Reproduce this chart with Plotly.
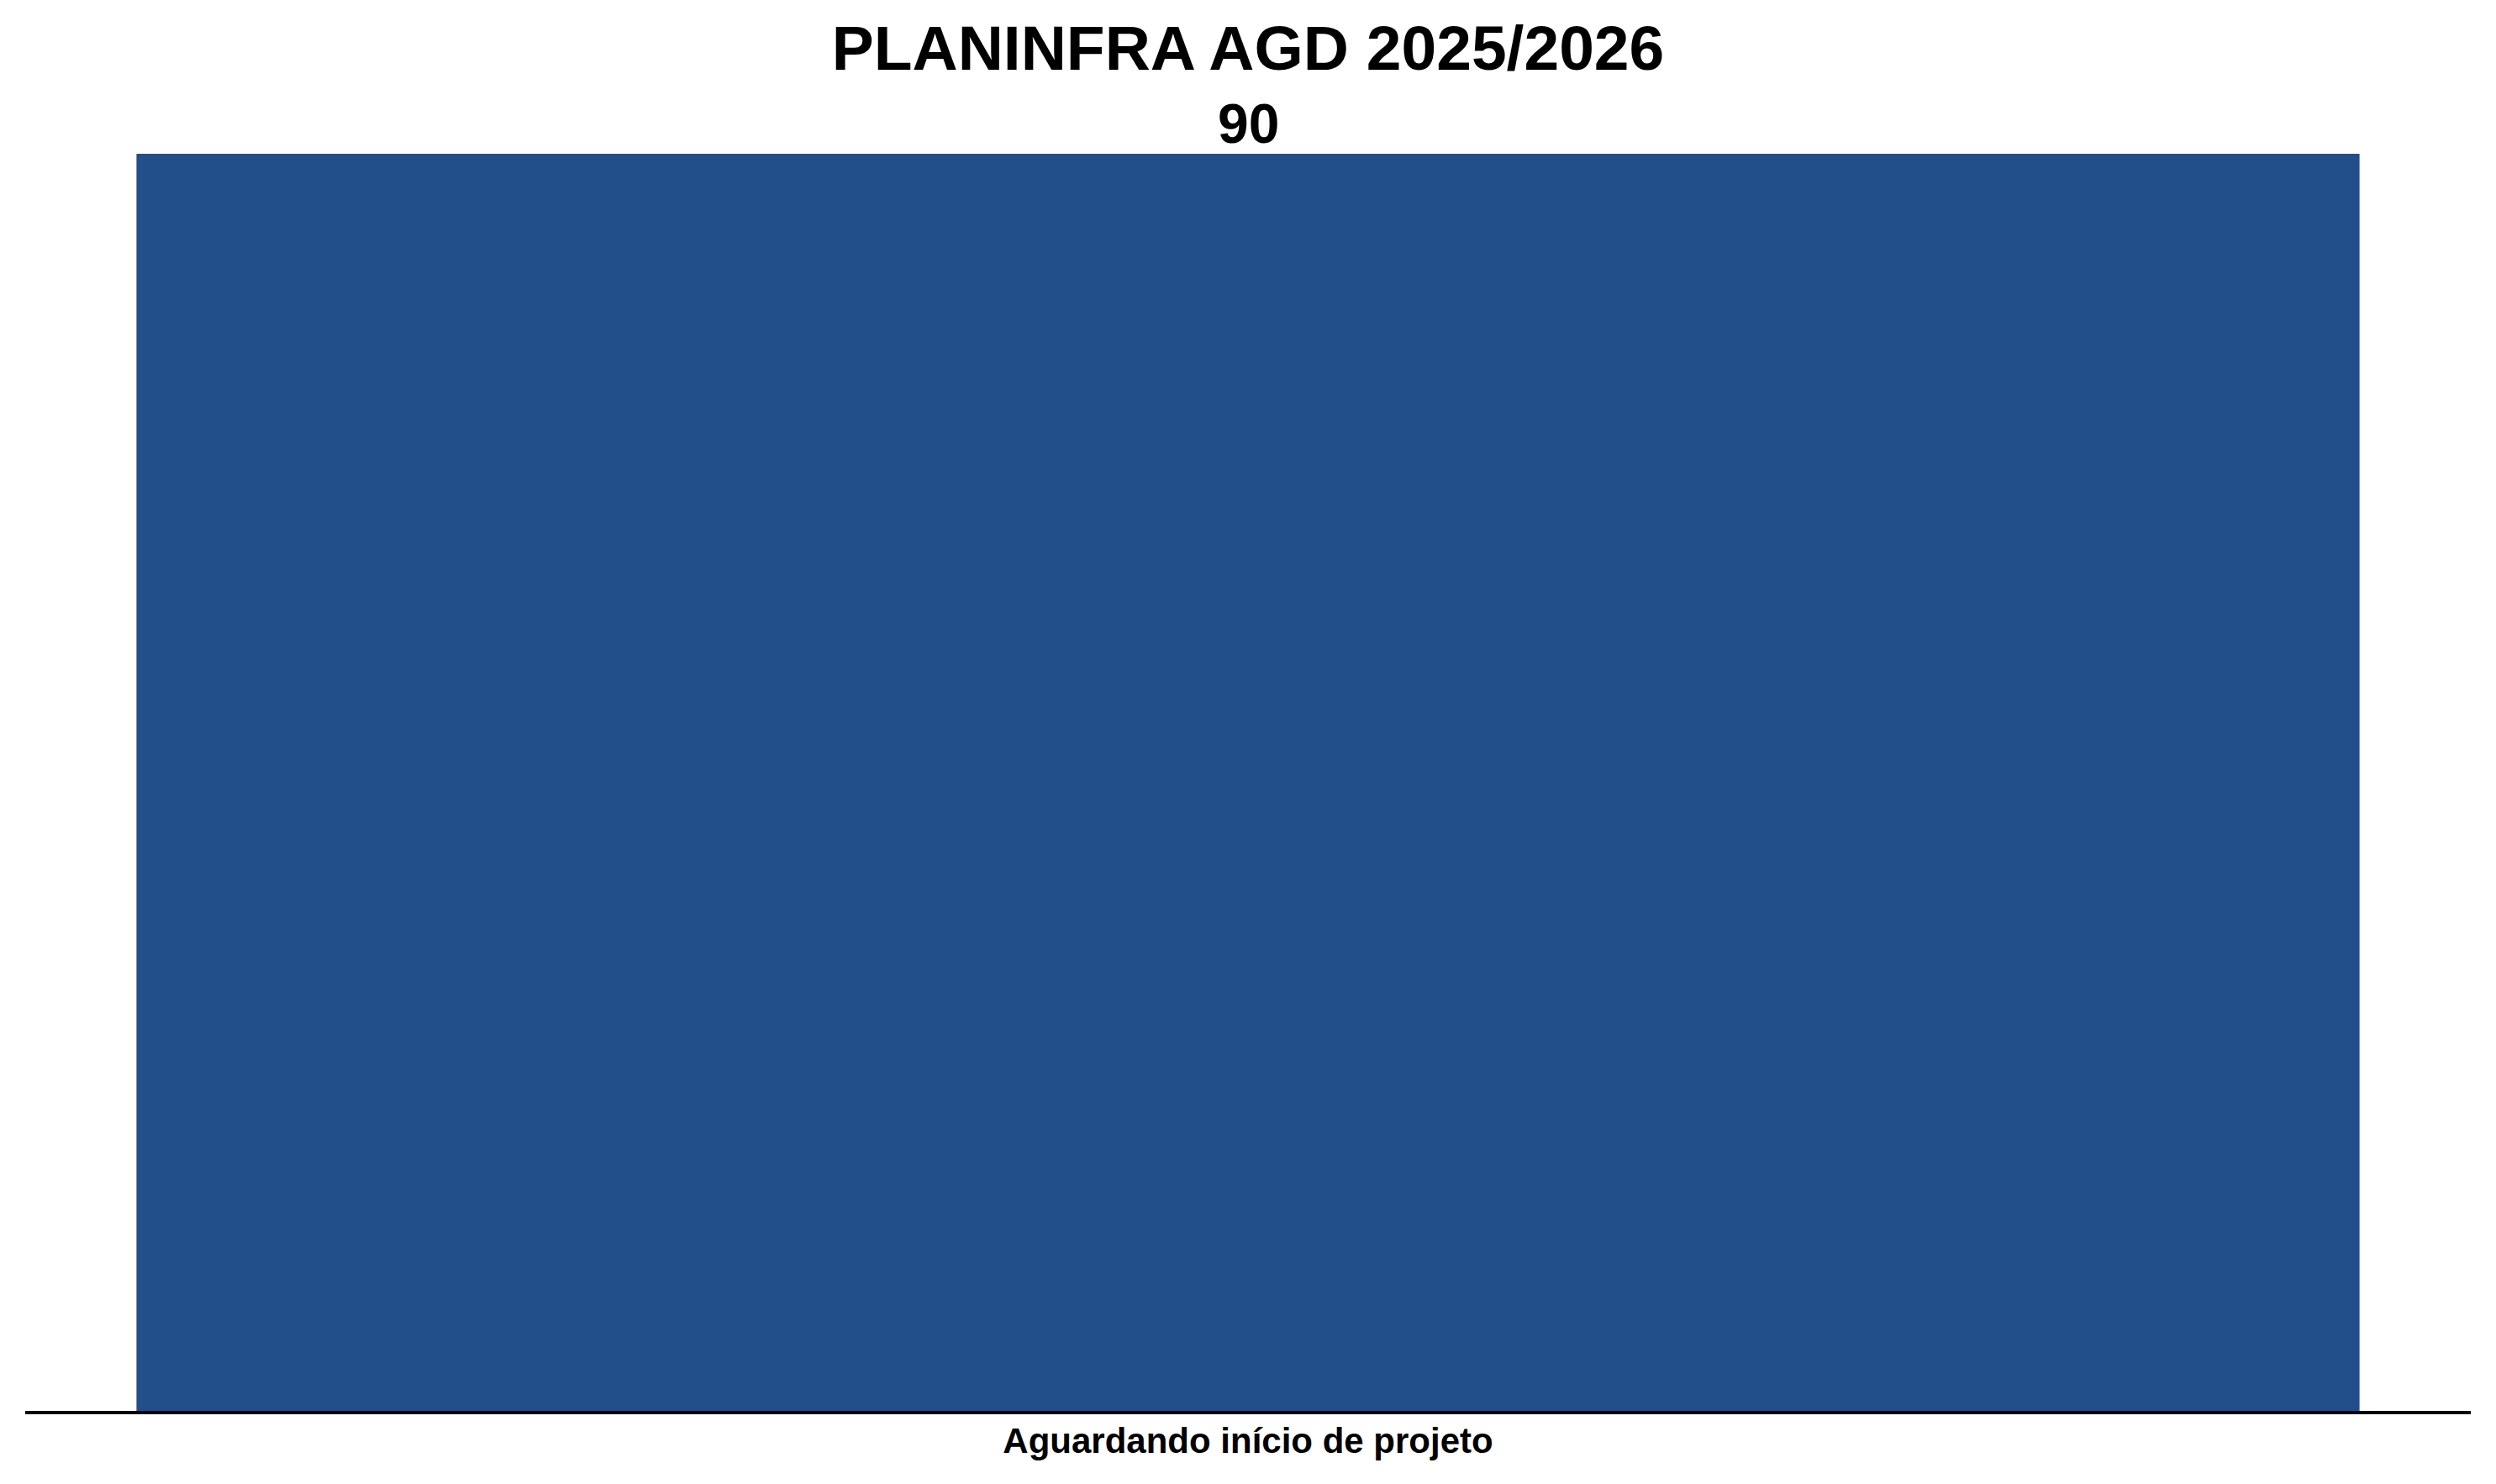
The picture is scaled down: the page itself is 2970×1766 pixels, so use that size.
import plotly.graph_objects as go

categories = ["Aguardando início de projeto"]
values = [90]
title_text = "PLANINFRA AGD 2025/2026"
bar_color = "#224e89"
FONT = "Liberation Sans, Arial, sans-serif"

fig = go.Figure(
    go.Bar(
        x=categories,
        y=values,
        width=0.909,
        marker=dict(color=bar_color, line=dict(width=0)),
        cliponaxis=False,
    )
)

for c, v in zip(categories, values):
    fig.add_annotation(
        x=c,
        y=v,
        xref="x",
        yref="y",
        text=str(v),
        showarrow=False,
        xanchor="center",
        yanchor="bottom",
        yshift=-3,
        font=dict(family=FONT, size=66, color="black", weight="bold"),
    )

fig.update_layout(
    width=2970,
    height=1766,
    margin=dict(l=30, r=30, t=100, b=87, pad=0),
    paper_bgcolor="white",
    plot_bgcolor="white",
    showlegend=False,
    title=dict(
        text=title_text,
        x=0.5,
        xanchor="center",
        y=1 - 57 / 1766,
        yanchor="middle",
        yref="container",
        font=dict(family=FONT, size=75, color="black", weight="bold"),
    ),
    xaxis=dict(
        range=[-0.5, 0.5],
        showline=True,
        linecolor="black",
        linewidth=4,
        showgrid=False,
        zeroline=False,
        ticks="",
        ticklabelstandoff=-4,
        tickfont=dict(family=FONT, size=42, color="black", weight="bold"),
    ),
    yaxis=dict(
        range=[0, 95],
        visible=False,
        showgrid=False,
        zeroline=False,
    ),
)

fig.write_html("out.html")
